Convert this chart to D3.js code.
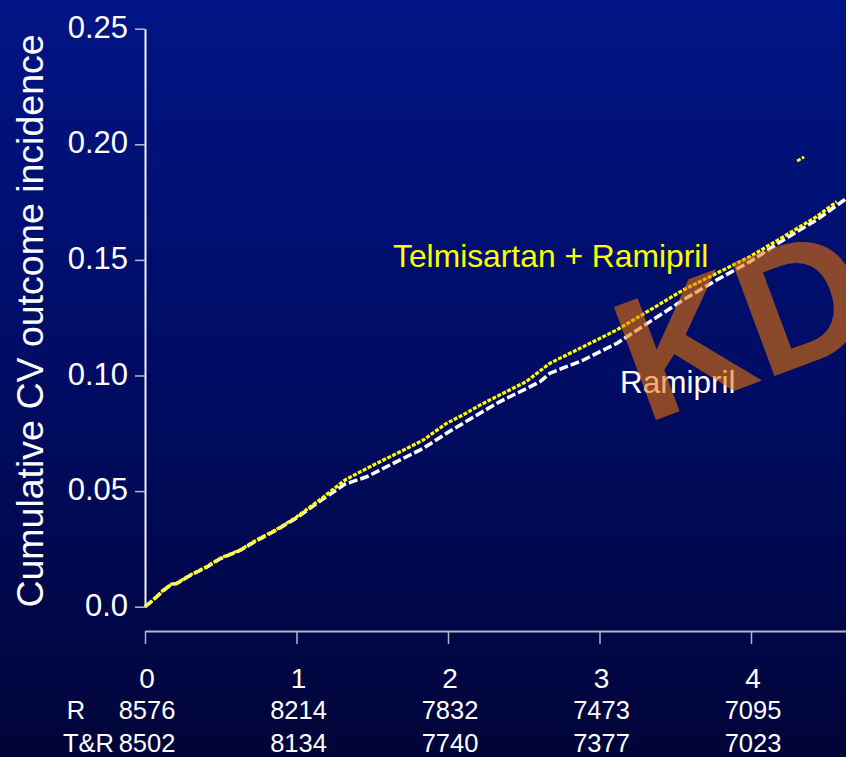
<!DOCTYPE html>
<html>
<head>
<meta charset="utf-8">
<script src="https://cdn.jsdelivr.net/npm/d3@7"></script>
<style>
  html, body { margin: 0; padding: 0; background: #000a5c; }
  svg { display: block; }
  text { font-family: "Liberation Sans", Arial, Helvetica, sans-serif; }
</style>
</head>
<body>
<svg id="chart" width="846" height="757"></svg>
<script>
// Follow-up time (years) used for x ticks and number-at-risk rows
const years = [0, 1, 2, 3, 4];
const yTicks = [0, 0.05, 0.10, 0.15, 0.20, 0.25];

// Number at risk per arm
const atRiskLabels = ["R", "T&R"];
const atRiskRamipril = [8576, 8214, 7832, 7473, 7095];
const atRiskCombo = [8502, 8134, 7740, 7377, 7023];

// Cumulative CV outcome incidence: Telmisartan + Ramipril [years, incidence]
const comboCurve = [
  [0, 0], [0.055, 0.0030], [0.121, 0.0072], [0.176, 0.0098], [0.209, 0.0101],
  [0.297, 0.0137], [0.407, 0.0173], [0.495, 0.0209], [0.627, 0.0245],
  [0.737, 0.0289], [0.87, 0.0335], [1.0, 0.0388], [1.167, 0.0469],
  [1.32, 0.0548], [1.464, 0.0598], [1.551, 0.0627], [1.70, 0.0675],
  [1.837, 0.0721], [1.99, 0.0793], [2.10, 0.0830], [2.211, 0.0872],
  [2.343, 0.0916], [2.515, 0.0973], [2.673, 0.1053], [2.894, 0.1125],
  [3.114, 0.1197], [3.333, 0.1283], [3.553, 0.1370], [3.773, 0.1442],
  [3.993, 0.1514], [4.213, 0.1600], [4.433, 0.1687], [4.566, 0.1752]
];
// Last isolated step of the combination arm
const comboTail = [[4.304, 0.1928], [4.35, 0.1945]];

// Cumulative CV outcome incidence: Ramipril [years, incidence]
const ramiprilCurve = [
  [0, 0], [0.055, 0.0029], [0.121, 0.0070], [0.176, 0.0097], [0.209, 0.0100],
  [0.297, 0.0135], [0.407, 0.0171], [0.495, 0.0207], [0.627, 0.0243],
  [0.737, 0.0286], [0.87, 0.0332], [1.0, 0.0384], [1.167, 0.0462],
  [1.32, 0.0530], [1.464, 0.0562], [1.551, 0.0591], [1.70, 0.0640],
  [1.837, 0.0685], [1.99, 0.0750], [2.211, 0.0837], [2.343, 0.0887],
  [2.607, 0.0973], [2.673, 0.1010], [2.894, 0.1067], [3.114, 0.1139],
  [3.333, 0.1233], [3.553, 0.1327], [3.773, 0.1413], [3.993, 0.1492],
  [4.213, 0.1586], [4.433, 0.1673], [4.63, 0.1766]
];

const svg = d3.select("#chart");
const W = 846, H = 757;

// Background: deep blue vertical gradient
const defs = svg.append("defs");
const grad = defs.append("linearGradient")
  .attr("id", "bg").attr("x1", 0).attr("y1", 0).attr("x2", 0).attr("y2", 1);
grad.append("stop").attr("offset", "0%").attr("stop-color", "#001585");
grad.append("stop").attr("offset", "50%").attr("stop-color", "#000c64");
grad.append("stop").attr("offset", "100%").attr("stop-color", "#000438");
svg.append("rect").attr("width", W).attr("height", H).attr("fill", "url(#bg)");

const x = d3.scaleLinear().domain([0, 4.627]).range([145, 846]);
const y = d3.scaleLinear().domain([0, 0.25]).range([606.7, 28.7]);

// Y axis
const yAxis = d3.axisLeft(y)
  .tickValues(yTicks)
  .tickSize(10)
  .tickSizeOuter(0)
  .tickPadding(7)
  .tickFormat(d => d === 0 ? "0.0" : d3.format(".2f")(d));
const gy = svg.append("g").attr("transform", "translate(145,0)").call(yAxis);
gy.select(".domain").attr("stroke", "#f2f2f6").attr("stroke-width", 2);
gy.selectAll(".tick line").attr("stroke", "#b8b8cc").attr("stroke-width", 1.5);
gy.selectAll(".tick text")
  .attr("fill", "#ffffff")
  .attr("font-size", 31)
  .attr("dy", "0.28em");

// X axis (offset below the plot)
const xAxis = d3.axisBottom(x)
  .tickValues(years)
  .tickSize(13)
  .tickSizeOuter(0)
  .tickFormat("");
const gx = svg.append("g").attr("transform", "translate(0,631)").call(xAxis);
gx.select(".domain").attr("stroke", "#b4b4c8").attr("stroke-width", 2);
gx.selectAll(".tick line").attr("stroke", "#b4b4c8").attr("stroke-width", 1.5);

// Year labels and numbers at risk
const labelG = svg.append("g").attr("fill", "#ffffff").attr("text-anchor", "middle");
labelG.selectAll("text.year").data(years).join("text")
  .attr("class", "year")
  .attr("x", d => x(d) + 2).attr("y", 688)
  .attr("font-size", 28)
  .text(d => d);
labelG.selectAll("text.riskR").data(atRiskRamipril).join("text")
  .attr("class", "riskR")
  .attr("x", (d, i) => x(years[i]) + 2).attr("y", 719)
  .attr("font-size", 25.5)
  .text(d => d);
labelG.selectAll("text.riskTR").data(atRiskCombo).join("text")
  .attr("class", "riskTR")
  .attr("x", (d, i) => x(years[i]) + 2).attr("y", 751.5)
  .attr("font-size", 25.5)
  .text(d => d);
svg.append("text").attr("x", 76).attr("y", 719).attr("text-anchor", "middle")
  .attr("font-size", 25.5).attr("fill", "#ffffff").text(atRiskLabels[0]);
svg.append("text").attr("x", 114).attr("y", 751.5).attr("text-anchor", "end")
  .attr("font-size", 25.5).attr("fill", "#ffffff").text(atRiskLabels[1]);

// Y axis title
svg.append("text")
  .attr("transform", "translate(43,321) rotate(-90)")
  .attr("text-anchor", "middle")
  .attr("font-size", 37.5)
  .attr("fill", "#ffffff")
  .text("Cumulative CV outcome incidence");

// Curves
const line = d3.line().x(d => x(d[0])).y(d => y(d[1]));
svg.append("path").datum(ramiprilCurve)
  .attr("d", line)
  .attr("fill", "none")
  .attr("stroke", "#ffffff")
  .attr("stroke-width", 3.5)
  .attr("stroke-dasharray", "9 3");
svg.append("path").datum(comboCurve)
  .attr("d", line)
  .attr("fill", "none")
  .attr("stroke", "#ffff00")
  .attr("stroke-width", 3.2)
  .attr("stroke-dasharray", "4 1.5");
svg.append("path").datum(comboTail)
  .attr("d", line)
  .attr("fill", "none")
  .attr("stroke", "#ffff00")
  .attr("stroke-width", 3)
  .attr("stroke-dasharray", "4 1.5");

// Series labels
svg.append("text").attr("x", 393).attr("y", 267)
  .attr("font-size", 31.8).attr("fill", "#ffff00")
  .text("Telmisartan + Ramipril");
svg.append("text").attr("x", 620).attr("y", 393)
  .attr("font-size", 31.5).attr("fill", "#ffffff")
  .text("Ramipril");

// Semi-transparent "KD" stamp across the upper right
svg.append("text")
  .attr("transform", "translate(645,424) rotate(-20.4)")
  .attr("font-size", 175)
  .attr("font-weight", "bold")
  .attr("fill", "rgb(238,116,0)")
  .attr("fill-opacity", 0.58)
  .text("KD");
</script>
</body>
</html>
